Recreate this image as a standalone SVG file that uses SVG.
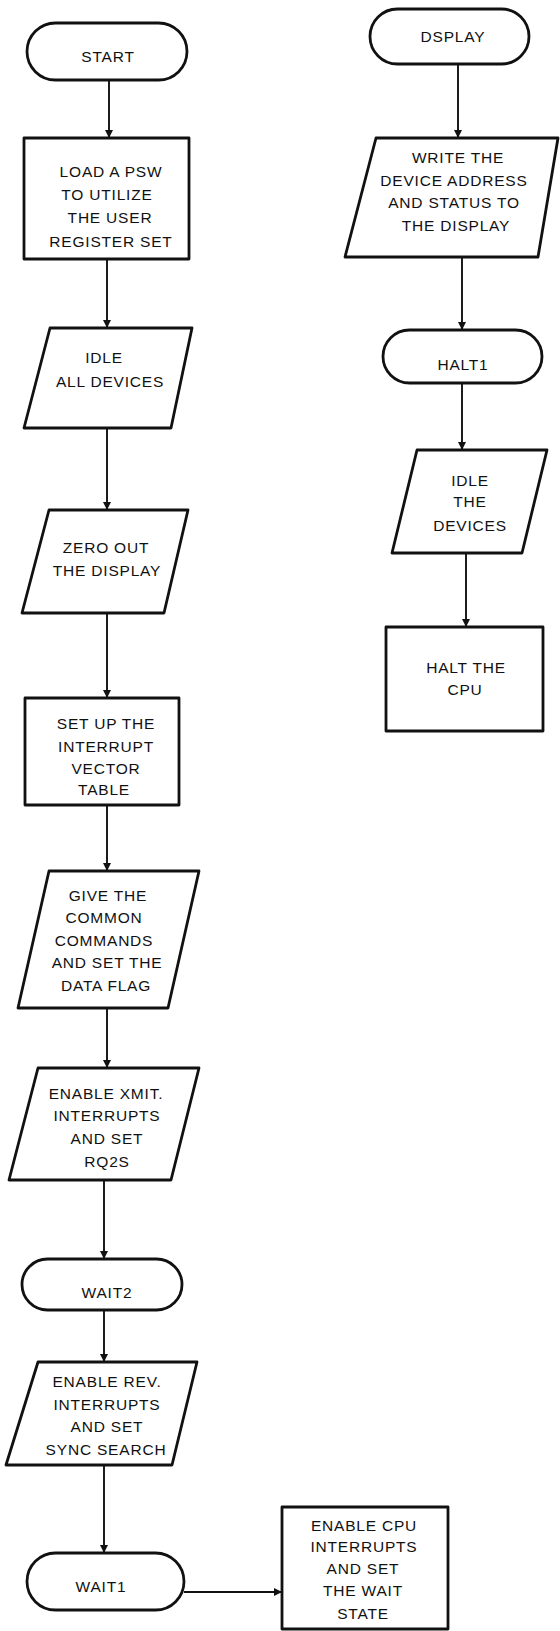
<svg xmlns="http://www.w3.org/2000/svg" width="560" height="1631" viewBox="0 0 560 1631">
  <style>
    .shape { fill: #fff; stroke: #111; stroke-width: 2.8; stroke-linejoin: round; }
    .conn { fill: none; stroke: #111; stroke-width: 1.9; }
    text { font-family: "Liberation Sans", Arial, sans-serif; font-size: 15.5px; fill: #111; text-anchor: middle; letter-spacing: 0.8px; }
  </style>
  <defs>
    <marker id="arrow" markerUnits="userSpaceOnUse" markerWidth="8" markerHeight="10" refX="8" refY="4" orient="auto">
      <path d="M0,0 L8,4 L0,8 Z" fill="#111"/>
    </marker>
  </defs>
  <rect width="560" height="1631" fill="#fff"/>

  <!-- connectors -->
  <g id="connectors">
    <line class="conn" x1="109" y1="80" x2="109" y2="138" marker-end="url(#arrow)"/>
    <line class="conn" x1="107" y1="259" x2="107" y2="328" marker-end="url(#arrow)"/>
    <line class="conn" x1="107" y1="428" x2="107" y2="510" marker-end="url(#arrow)"/>
    <line class="conn" x1="107" y1="613" x2="107" y2="698" marker-end="url(#arrow)"/>
    <line class="conn" x1="107" y1="805" x2="107" y2="871" marker-end="url(#arrow)"/>
    <line class="conn" x1="107" y1="1008" x2="107" y2="1068" marker-end="url(#arrow)"/>
    <line class="conn" x1="104" y1="1180" x2="104" y2="1259" marker-end="url(#arrow)"/>
    <line class="conn" x1="104" y1="1310" x2="104" y2="1362" marker-end="url(#arrow)"/>
    <line class="conn" x1="104" y1="1465" x2="104" y2="1553" marker-end="url(#arrow)"/>
    <line class="conn" x1="184" y1="1592" x2="282" y2="1592" marker-end="url(#arrow)"/>
    <line class="conn" x1="458" y1="64" x2="458" y2="138" marker-end="url(#arrow)"/>
    <line class="conn" x1="462" y1="257" x2="462" y2="330" marker-end="url(#arrow)"/>
    <line class="conn" x1="462" y1="383" x2="462" y2="450" marker-end="url(#arrow)"/>
    <line class="conn" x1="466" y1="553" x2="466" y2="627" marker-end="url(#arrow)"/>
  </g>

  <!-- main routine -->
  <g id="start">
    <rect class="shape" x="27" y="23" width="160" height="57" rx="28.5"/>
    <text x="108" y="62">START</text>
  </g>
  <g id="load-psw">
    <rect class="shape" x="24" y="138" width="165" height="121"/>
    <text x="111" y="177">LOAD A PSW</text>
    <text x="107" y="200">TO UTILIZE</text>
    <text x="110" y="223">THE USER</text>
    <text x="111" y="247">REGISTER SET</text>
  </g>
  <g id="idle-all">
    <polygon class="shape" points="50,328 192,328 171,428 24,428"/>
    <text x="104" y="363">IDLE</text>
    <text x="110" y="387">ALL DEVICES</text>
  </g>
  <g id="zero-display">
    <polygon class="shape" points="49,510 188,510 164,613 22,613"/>
    <text x="106" y="553">ZERO OUT</text>
    <text x="107" y="576">THE DISPLAY</text>
  </g>
  <g id="vector-table">
    <rect class="shape" x="25" y="698" width="154" height="107"/>
    <text x="106" y="729">SET UP THE</text>
    <text x="106" y="752">INTERRUPT</text>
    <text x="106" y="774">VECTOR</text>
    <text x="104" y="795">TABLE</text>
  </g>
  <g id="common-commands">
    <polygon class="shape" points="49,871 199,871 168,1008 18,1008"/>
    <text x="108" y="901">GIVE THE</text>
    <text x="104" y="923">COMMON</text>
    <text x="104" y="946">COMMANDS</text>
    <text x="107" y="968">AND SET THE</text>
    <text x="106" y="991">DATA FLAG</text>
  </g>
  <g id="enable-xmit">
    <polygon class="shape" points="38,1068 199,1068 171,1180 9,1180"/>
    <text x="106" y="1099">ENABLE XMIT.</text>
    <text x="107" y="1121">INTERRUPTS</text>
    <text x="107" y="1144">AND SET</text>
    <text x="107" y="1167">RQ2S</text>
  </g>
  <g id="wait2">
    <rect class="shape" x="22" y="1259" width="160" height="51" rx="25.5"/>
    <text x="107" y="1298">WAIT2</text>
  </g>
  <g id="enable-rev">
    <polygon class="shape" points="38,1362 197,1362 172,1465 6,1465"/>
    <text x="107" y="1387">ENABLE REV.</text>
    <text x="107" y="1410">INTERRUPTS</text>
    <text x="107" y="1432">AND SET</text>
    <text x="106" y="1455">SYNC SEARCH</text>
  </g>
  <g id="wait1">
    <rect class="shape" x="27" y="1553" width="157" height="57" rx="28.5"/>
    <text x="101" y="1592">WAIT1</text>
  </g>
  <g id="enable-cpu">
    <rect class="shape" x="282" y="1507" width="166" height="122"/>
    <text x="364" y="1531">ENABLE CPU</text>
    <text x="364" y="1552">INTERRUPTS</text>
    <text x="363" y="1574">AND SET</text>
    <text x="363" y="1596">THE WAIT</text>
    <text x="363" y="1619">STATE</text>
  </g>

  <!-- display / halt routine -->
  <g id="dsplay">
    <rect class="shape" x="370" y="9" width="159" height="55" rx="27.5"/>
    <text x="453" y="42">DSPLAY</text>
  </g>
  <g id="write-display">
    <polygon class="shape" points="376,138 558,138 538,257 345,257"/>
    <text x="458" y="163">WRITE THE</text>
    <text x="454" y="186">DEVICE ADDRESS</text>
    <text x="454" y="208">AND STATUS TO</text>
    <text x="456" y="231">THE DISPLAY</text>
  </g>
  <g id="halt1">
    <rect class="shape" x="383" y="330" width="159" height="53" rx="26.5"/>
    <text x="463" y="370">HALT1</text>
  </g>
  <g id="idle-devices">
    <polygon class="shape" points="417,450 547,450 522,553 392,553"/>
    <text x="470" y="486">IDLE</text>
    <text x="470" y="507">THE</text>
    <text x="470" y="531">DEVICES</text>
  </g>
  <g id="halt-cpu">
    <rect class="shape" x="386" y="627" width="157" height="104"/>
    <text x="466" y="673">HALT THE</text>
    <text x="465" y="695">CPU</text>
  </g>
</svg>
